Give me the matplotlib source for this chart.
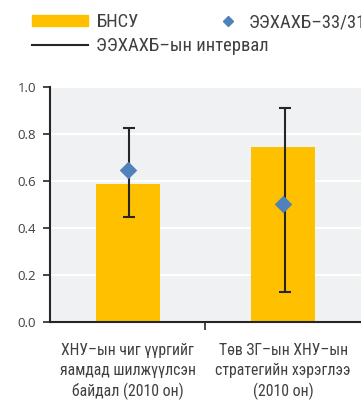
import matplotlib.pyplot as plt
from matplotlib.lines import Line2D
from matplotlib.patches import Patch

# категориуд ба утгууд
categories = ['ХНУ–ын чиг үүргийг\nяамдад шилжүүлсэн\nбайдал (2010 он)',
              'Төв ЗГ–ын ХНУ–ын\nстратегийн хэрэглээ\n(2010 он)']
bnsu = [0.585, 0.743]
oecd = [0.644, 0.500]
ci_low = [0.446, 0.127]
ci_high = [0.825, 0.908]

narrow = ['Roboto Condensed', 'DejaVu Sans']
txtcol = '#404040'

fig = plt.figure(figsize=(3.61, 4.03), dpi=100)
ax = fig.add_axes([0.1385, 0.201, 0.8615, 0.584])
ax.set_facecolor('#f0f1f3')

x = [0, 1]
ax.bar(x, bnsu, width=0.41, color='#ffc000', zorder=2)
yerr = [[o - l for o, l in zip(oecd, ci_low)], [h - o for o, h in zip(oecd, ci_high)]]
ax.errorbar([v + 0.01 for v in x], oecd, yerr=yerr, fmt='none', ecolor='#262626',
            elinewidth=1.5, capsize=4.3, capthick=1.5, zorder=3)
ax.scatter(x, oecd, marker='D', s=80, color='#4f81bd', zorder=4, linewidths=0)

ax.set_xlim(-0.5, 1.5)
ax.set_ylim(0, 1.0)
ax.set_yticks([0, 0.2, 0.4, 0.6, 0.8, 1.0])
ax.set_yticklabels(['0.0', '0.2', '0.4', '0.6', '0.8', '1.0'], fontsize=9.5,
                   family='Open Sans', color=txtcol)
ax.yaxis.grid(True, color='white', linewidth=1.5, zorder=0)
ax.set_axisbelow(True)
ax.set_xticks([0.5])
ax.set_xticklabels([''])
ax.tick_params(axis='x', length=6, width=1.2, direction='out', color='#262626')
ax.tick_params(axis='y', length=5, width=1.2, direction='out', pad=5, color='#262626')
for s in ['top', 'right']:
    ax.spines[s].set_visible(False)
for s in ['left', 'bottom']:
    ax.spines[s].set_linewidth(1.5)
    ax.spines[s].set_color('#262626')

for xi, lab in zip(x, categories):
    ax.text(xi, -0.088, lab, ha='center', va='top', fontsize=11.3, family=narrow,
            color=txtcol, linespacing=1.4)

# легенд
h1 = Patch(color='#ffc000')
h2 = Line2D([], [], color='#262626', lw=1.5)
h3 = Line2D([], [], marker='D', color='#4f81bd', ls='none', markersize=5)
fig.legend([h1, h2], ['БНСУ', 'ЭЭХАХБ–ын интервал'], loc='upper left',
           bbox_to_anchor=(0.09, 0.967), frameon=False, handlelength=3.0,
           handleheight=0.55, handletextpad=0.45, borderpad=0, borderaxespad=0,
           prop={'family': narrow, 'size': 13.3}, labelcolor=txtcol, labelspacing=0.32)
fig.legend([h3], ['ЭЭХАХБ–33/31'], loc='upper left', bbox_to_anchor=(0.607, 0.967),
           frameon=False, handlelength=1.0, handletextpad=0.6, borderpad=0,
           borderaxespad=0, prop={'family': narrow, 'size': 13.3}, labelcolor=txtcol)

fig.savefig('out.png', dpi=100)
